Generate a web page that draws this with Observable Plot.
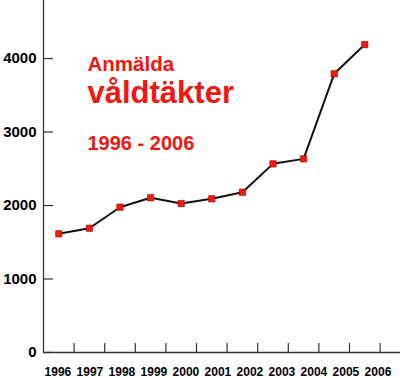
<!DOCTYPE html>
<html><head><meta charset="utf-8">
<script src="https://cdn.jsdelivr.net/npm/d3@7"></script>
<script src="https://cdn.jsdelivr.net/npm/@observablehq/plot@0.6"></script>
<style>body{margin:0;background:#fff}</style>
</head><body><div id="chart"></div>
<script>
const years = [1996, 1997, 1998, 1999, 2000, 2001, 2002, 2003, 2004, 2005, 2006];
const values = [1615, 1691, 1977, 2105, 2027, 2091, 2181, 2567, 2635, 3792, 4190];
const yTicks = [0, 1000, 2000, 3000, 4000];
const xTickYears = years.map(y => y + 0.5);
const titleLines = ["Anmälda", "våldtäkter", "1996 - 2006"];
// year labels in the original are spread slightly wider than the data points
const labelStretch = 0.046;

const data = years.map((year, i) => ({year, value: values[i]}));
const font = "'Liberation Sans', Arial, Helvetica, sans-serif";
const red = "#f3150f";
const axisColor = "#333";

const chart = Plot.plot({
  width: 400, height: 378,
  marginLeft: 43, marginRight: 0, marginTop: 0, marginBottom: 26,
  style: {fontFamily: font, background: "#fff", color: "#000"},
  x: {domain: [1995.5, 2007.167], label: null},
  y: {domain: [0, 4790], label: null},
  marks: [
    Plot.ruleX([1995.5], {stroke: axisColor, strokeWidth: 1.3}),
    Plot.ruleY([0], {stroke: axisColor, strokeWidth: 1.3}),
    Plot.axisX(xTickYears, {tickSize: 9, dy: -9, tickFormat: () => "", label: null, stroke: axisColor, strokeWidth: 1.2}),
    Plot.axisY(yTicks, {tickSize: 10, dx: 10, tickFormat: () => "", label: null, stroke: axisColor, strokeWidth: 1.2}),
    Plot.axisY(yTicks, {tickSize: 0, tickPadding: 7, tickFormat: d => String(d), label: null, fontSize: 15, fontWeight: "bold", fill: "#000"}),
    Plot.text(years, {
      x: d => d + (d - 1996) * labelStretch - 0.03,
      text: d => String(d),
      frameAnchor: "bottom", lineAnchor: "bottom", dy: 23,
      fontSize: 12, fontWeight: "bold", fill: "#000"
    }),
    Plot.line(data, {x: "year", y: "value", stroke: "#111", strokeWidth: 2}),
    Plot.dot(data, {x: "year", y: "value", symbol: "square", r: 3.6, fill: "#ee1c0e", stroke: "#9a0c05", strokeWidth: 0.6}),
    Plot.text([titleLines[0]], {frameAnchor: "top-left", textAnchor: "start", lineAnchor: "bottom", dx: 44, dy: 70, fontSize: 20.5, fontWeight: "bold", fill: red}),
    Plot.text([titleLines[1]], {frameAnchor: "top-left", textAnchor: "start", lineAnchor: "bottom", dx: 44, dy: 102, fontSize: 31, fontWeight: "bold", fill: red}),
    Plot.text([titleLines[2]], {frameAnchor: "top-left", textAnchor: "start", lineAnchor: "bottom", dx: 44, dy: 149.5, fontSize: 20, fontWeight: "bold", fill: red})
  ]
});
document.getElementById("chart").append(chart);
</script>
</body></html>
